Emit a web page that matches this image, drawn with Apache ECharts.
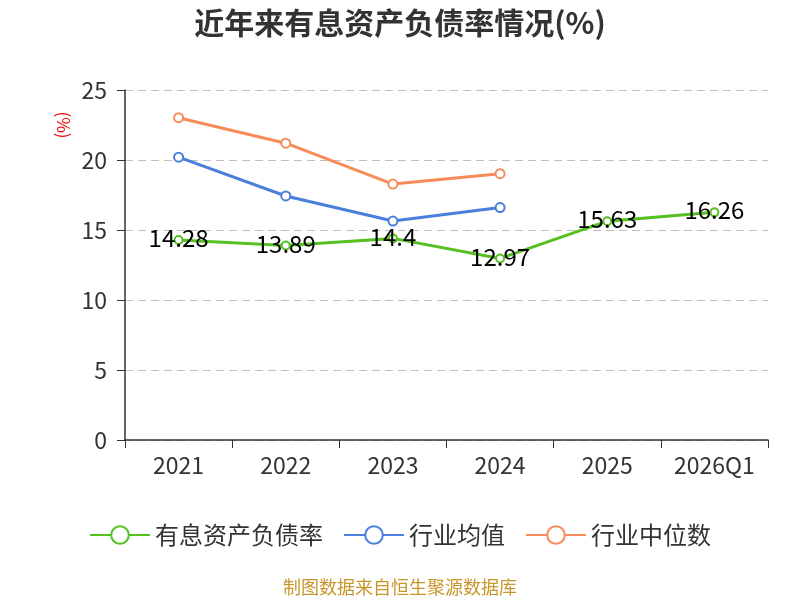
<!DOCTYPE html>
<html><head><meta charset="utf-8">
<script src="https://cdn.jsdelivr.net/npm/echarts@6/dist/echarts.min.js"></script>
<style>html,body{margin:0;padding:0;background:#fff}#c{width:800px;height:600px}</style>
</head><body><div id="c"></div>
<script>
const categories = ['2021','2022','2023','2024','2025','2026Q1'];
const ratio = [14.28, 13.89, 14.4, 12.97, 15.63, 16.26];
const industryAvg = [20.2, 17.43, 15.64, 16.6, null, null];
const industryMedian = [23.02, 21.2, 18.28, 19.02, null, null];
const yTicks = [0, 5, 10, 15, 20, 25];

const chart = echarts.init(document.getElementById('c'));
const font = '"Microsoft YaHei","Noto Sans CJK SC",sans-serif';
chart.setOption({
  animation: false,
  textStyle: {fontFamily: font},
  title: {text: '近年来有息资产负债率情况(%)', left: 'center', top: 3,
    textStyle: {fontSize: 30, fontWeight: 'bold', color: '#333', fontFamily: font}},
  legend: {top: 518, left: 'center', itemWidth: 60, itemHeight: 22, itemGap: 20,
    textStyle: {fontSize: 24, color: '#333', fontFamily: font},
    data: ['有息资产负债率','行业均值','行业中位数']},
  graphic: [
    {type: 'text', left: 'center', top: 578,
      style: {text: '制图数据来自恒生聚源数据库', fill: '#c8962a', font: '18px ' + font}},
    {type: 'text', x: 63, y: 125, rotation: -Math.PI / 2,
      style: {text: '(%)', fill: '#e00', font: '17px ' + font, textAlign: 'center', textVerticalAlign: 'middle'}}
  ],
  grid: {left: 125, right: 32, top: 90, bottom: 160},
  xAxis: {type: 'category', data: categories, boundaryGap: true,
    axisLine: {lineStyle: {color: '#333', width: 1.5}},
    axisTick: {show: true, length: 8, lineStyle: {color: '#333'}},
    axisLabel: {fontSize: 23, color: '#333', margin: 14}},
  yAxis: {type: 'value', min: yTicks[0], max: yTicks[yTicks.length-1], interval: 5,
    axisLine: {show: true, lineStyle: {color: '#333', width: 1.5}},
    axisTick: {show: true, length: 8, lineStyle: {color: '#333'}},
    axisLabel: {fontSize: 23, color: '#333', margin: 18},
    splitLine: {lineStyle: {type: [8, 5], color: '#c0c0c0', width: 1.2}}},
  series: [
    {name: '有息资产负债率', type: 'line', data: ratio, symbol: 'emptyCircle', symbolSize: 8,
      itemStyle: {color: '#55c01f', borderWidth: 1.5},
      lineStyle: {width: 3, color: '#55c01f'},
      label: {show: true, position: 'inside', fontSize: 24, color: '#000', fontFamily: font, offset: [0, -2]}},
    {name: '行业均值', type: 'line', data: industryAvg, symbol: 'emptyCircle', symbolSize: 9,
      itemStyle: {color: '#4a7fdc', borderWidth: 2}, lineStyle: {width: 3, color: '#4a7fdc'}},
    {name: '行业中位数', type: 'line', data: industryMedian, symbol: 'emptyCircle', symbolSize: 9,
      itemStyle: {color: '#f78c5a', borderWidth: 2}, lineStyle: {width: 3, color: '#f78c5a'}}
  ]
});
</script></body></html>
